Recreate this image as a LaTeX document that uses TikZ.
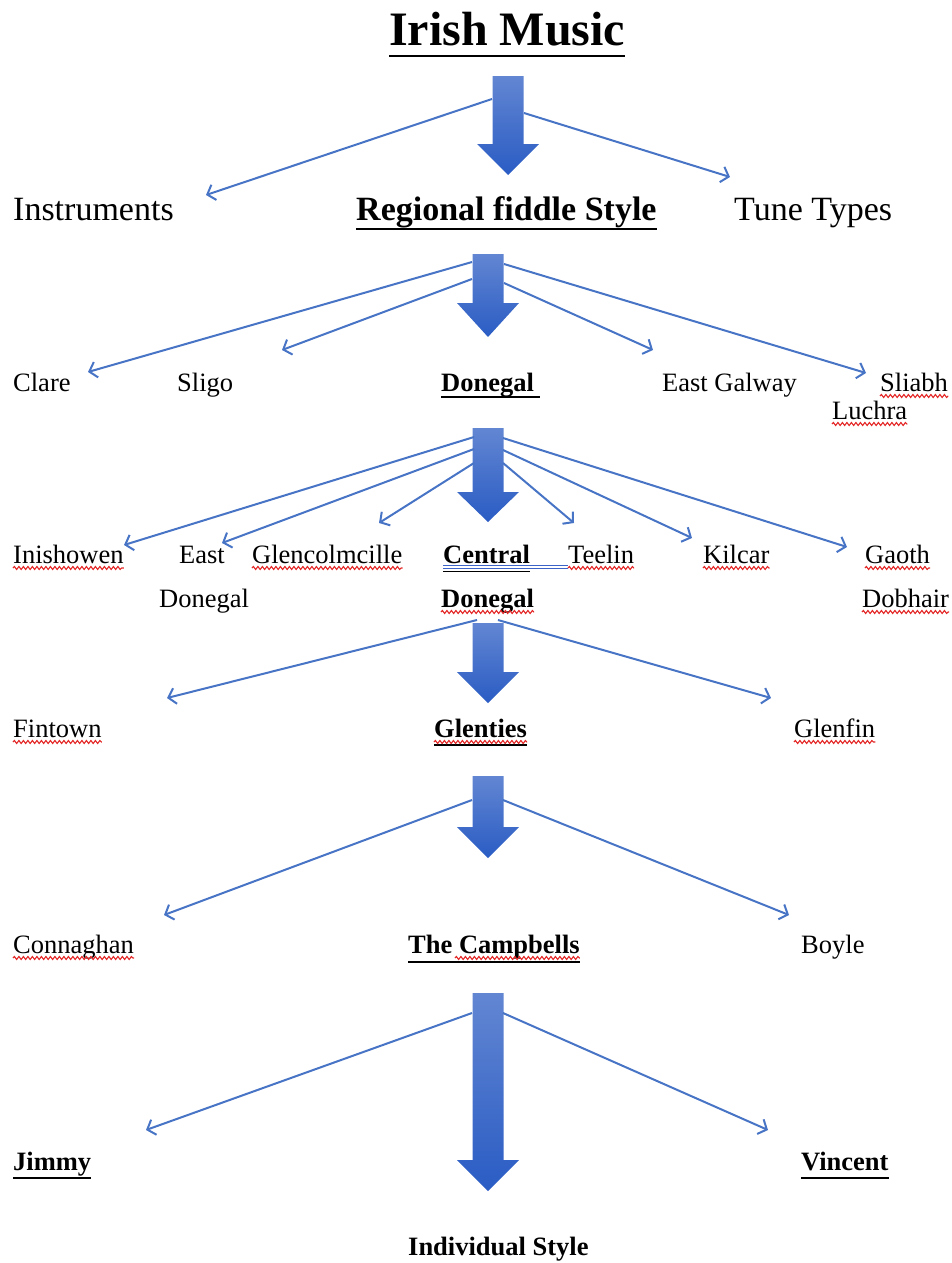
\documentclass[tikz,border=0pt]{standalone}
\usepackage{fontspec}
\setmainfont{Liberation Serif}
\usetikzlibrary{arrows.meta,decorations.pathmorphing}
\definecolor{lineblue}{RGB}{72,116,198}
\definecolor{arrtop}{RGB}{98,134,210}
\definecolor{arrbot}{RGB}{42,92,196}
\definecolor{wavyred}{RGB}{228,40,40}
\definecolor{ulblue}{RGB}{60,100,200}
\newcommand\fatarrow[5]{%
  \shade[top color=arrtop,bottom color=arrbot]
    ({#2-15.5},#3) -- ({#2+15.5},#3) -- ({#2+15.5},#4) -- ({#2+31},#4)
    -- (#2,#5) -- ({#2-31},#4) -- ({#2-15.5},#4) -- cycle;
  \coordinate (#1) at (#2,#3);}
\tikzset{
  lab/.style={anchor=base west, inner sep=0pt, font=\fontsize{26.5}{30}\selectfont},
  blab/.style={anchor=base west, inner sep=0pt, font=\fontsize{26.5}{30}\selectfont\bfseries},
  biglab/.style={anchor=base west, inner sep=0pt, font=\fontsize{34}{40}\selectfont},
  conn/.style={draw=lineblue, line width=2pt,
    -{Straight Barb[length=7pt,width=16pt,line width=2pt]}},
  uline/.style={line width=1.9pt},
  wavy/.style={draw=wavyred, line width=1.1pt, decorate,
    decoration={snake, amplitude=1.5pt, segment length=4.5pt}},
}
\begin{document}
\begin{tikzpicture}[x=1pt,y=-1pt]
\useasboundingbox (0,0) rectangle (952,1263);

% ---------- Title ----------
\node[anchor=base west, inner sep=0pt, font=\fontsize{48}{54}\selectfont\bfseries] (title) at (389,46) {Irish Music};
\draw[line width=2.4pt] ([yshift=-10pt]title.base west) -- ([yshift=-10pt]title.base east);

% ---------- Level 1 ----------
\fatarrow{A1}{508}{76}{144}{175}
\node[biglab] (instr) at (13,220) {Instruments};
\node[biglab, font=\fontsize{34}{40}\selectfont\bfseries] (regional) at (356,220) {Regional fiddle Style};
\node[biglab] (tune) at (734,220) {Tune Types};
\draw[uline] ([yshift=-9pt]regional.base west) -- ([yshift=-9pt]regional.base east);

\coordinate (s1a) at (492,99);  \coordinate (e1a) at (206,195);
\coordinate (s1b) at (524,113); \coordinate (e1b) at (730,177);
\draw[conn] (s1a) -- (e1a);
\draw[conn] (s1b) -- (e1b);

% ---------- Level 2 ----------
\fatarrow{A2}{488}{254}{303}{337}
\node[lab] (clare) at (13,391) {Clare};
\node[lab] (sligo) at (177,391) {Sligo};
\node[blab] (donegal) at (441,391) {Donegal};
\node[lab] (egalway) at (662,391) {East Galway};
\node[lab] (sliabh) at (880,391) {Sliabh};
\node[lab] (luchra) at (832,419) {Luchra};
\draw[uline] ([yshift=-6pt]donegal.base west) -- ([xshift=6pt,yshift=-6pt]donegal.base east);
\draw[wavy] ([yshift=-5pt]sliabh.base west) -- ([yshift=-5pt]sliabh.base east);
\draw[wavy] ([yshift=-5pt]luchra.base west) -- ([yshift=-5pt]luchra.base east);

\coordinate (s2a) at (472,262); \coordinate (e2a) at (88,372);
\coordinate (s2b) at (472,279); \coordinate (e2b) at (282,350);
\coordinate (s2c) at (504,283); \coordinate (e2c) at (653,350);
\coordinate (s2d) at (504,264); \coordinate (e2d) at (866,373);
\draw[conn] (s2a) -- (e2a);
\draw[conn] (s2b) -- (e2b);
\draw[conn] (s2c) -- (e2c);
\draw[conn] (s2d) -- (e2d);

% ---------- Level 3 ----------
\fatarrow{A3}{488}{428}{492}{522}
\node[lab] (inish) at (13,563) {Inishowen};
\node[lab] (east) at (179,563) {East};
\node[lab] (edon) at (159,607) {Donegal};
\node[lab] (glencol) at (252,563) {Glencolmcille};
\node[blab] (central) at (443,563) {Central};
\node[blab] (cdon) at (441,607) {Donegal};
\node[lab] (teelin) at (568,563) {Teelin};
\node[lab] (kilcar) at (703,563) {Kilcar};
\node[lab] (gaoth) at (865,563) {Gaoth};
\node[lab] (dobhair) at (862,607) {Dobhair};
\draw[draw=ulblue, line width=1.4pt] ([yshift=-2.5pt]central.base west) -- ++(125,0);
\draw[draw=ulblue, line width=1.4pt] ([yshift=-5.5pt]central.base west) -- ++(125,0);
\draw[line width=1.8pt] ([yshift=-8.5pt]central.base west) -- ([yshift=-8.5pt]central.base east);
\foreach \n in {inish,glencol,teelin,kilcar,gaoth,cdon,dobhair}
  \draw[wavy] ([yshift=-5pt]\n.base west) -- ([yshift=-5pt]\n.base east);

\coordinate (s3a) at (474,437); \coordinate (e3a) at (124,545);
\coordinate (s3b) at (474,449); \coordinate (e3b) at (222,543);
\coordinate (s3c) at (474,463); \coordinate (e3c) at (379,523);
\coordinate (s3d) at (503,463); \coordinate (e3d) at (574,523);
\coordinate (s3e) at (503,450); \coordinate (e3e) at (692,538);
\coordinate (s3f) at (503,438); \coordinate (e3f) at (847,547);
\draw[conn] (s3a) -- (e3a);
\draw[conn] (s3b) -- (e3b);
\draw[conn] (s3c) -- (e3c);
\draw[conn] (s3d) -- (e3d);
\draw[conn] (s3e) -- (e3e);
\draw[conn] (s3f) -- (e3f);

% ---------- Level 4 ----------
\fatarrow{A4}{488}{623}{672}{703}
\node[lab] (fintown) at (13,737) {Fintown};
\node[blab] (glenties) at (434,737) {Glenties};
\node[lab] (glenfin) at (794,737) {Glenfin};
\draw[uline] ([yshift=-8pt]glenties.base west) -- ([yshift=-8pt]glenties.base east);
\foreach \n in {fintown,glenties,glenfin}
  \draw[wavy] ([yshift=-5pt]\n.base west) -- ([yshift=-5pt]\n.base east);

\coordinate (s4a) at (477,620); \coordinate (e4a) at (167,698);
\coordinate (s4b) at (498,620); \coordinate (e4b) at (771,698);
\draw[conn] (s4a) -- (e4a);
\draw[conn] (s4b) -- (e4b);

% ---------- Level 5 ----------
\fatarrow{A5}{488}{776}{827}{858}
\node[lab] (conn) at (13,953) {Connaghan};
\node[blab] (campbells) at (408,953) {The Campbells};
\node[lab] (boyle) at (801,953) {Boyle};
\draw[uline] ([yshift=-9pt]campbells.base west) -- ([yshift=-9pt]campbells.base east);
\draw[wavy] ([yshift=-5pt]conn.base west) -- ([yshift=-5pt]conn.base east);
\draw[wavy] ([xshift=47pt,yshift=-5pt]campbells.base west) -- ([yshift=-5pt]campbells.base east);

\coordinate (s5a) at (472,800); \coordinate (e5a) at (164,915);
\coordinate (s5b) at (503,800); \coordinate (e5b) at (789,915);
\draw[conn] (s5a) -- (e5a);
\draw[conn] (s5b) -- (e5b);

% ---------- Level 6 ----------
\fatarrow{A6}{488}{993}{1160}{1191}
\node[blab] (jimmy) at (13,1170) {Jimmy};
\node[blab] (vincent) at (801,1170) {Vincent};
\draw[uline] ([yshift=-8pt]jimmy.base west) -- ([yshift=-8pt]jimmy.base east);
\draw[uline] ([yshift=-8pt]vincent.base west) -- ([yshift=-8pt]vincent.base east);

\coordinate (s6a) at (472,1013); \coordinate (e6a) at (146,1130);
\coordinate (s6b) at (503,1013); \coordinate (e6b) at (768,1130);
\draw[conn] (s6a) -- (e6a);
\draw[conn] (s6b) -- (e6b);

\node[blab] (indiv) at (408,1255) {Individual Style};
\end{tikzpicture}
\end{document}
